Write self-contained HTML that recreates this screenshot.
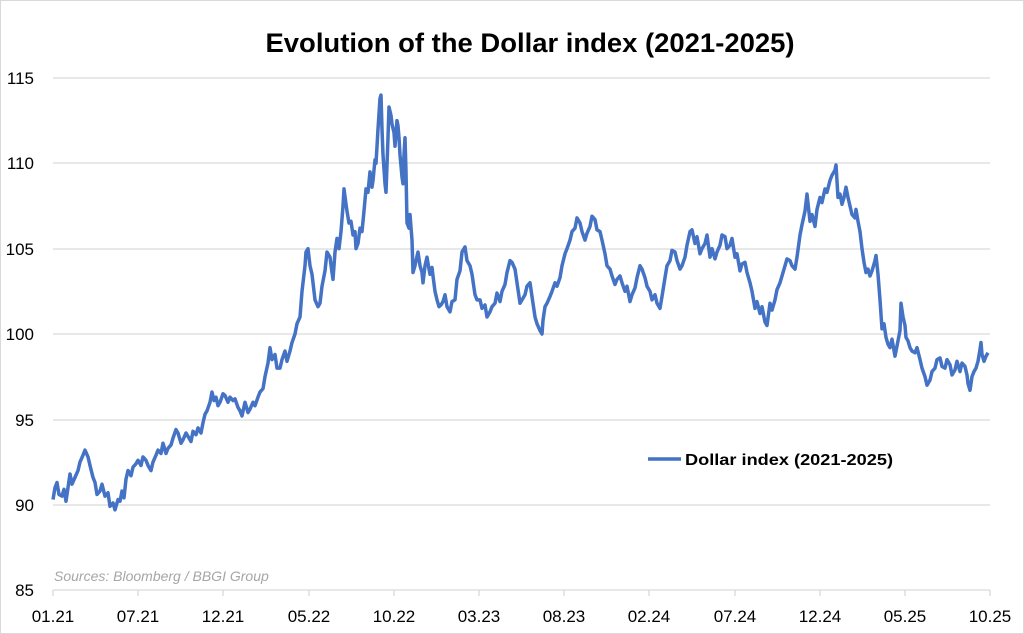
<!DOCTYPE html>
<html><head><meta charset="utf-8"><style>
html,body{margin:0;padding:0;background:#fff}
svg{display:block;font-family:"Liberation Sans",Arial,sans-serif}
</style></head><body>
<svg width="1024" height="634" viewBox="0 0 1024 634" xmlns="http://www.w3.org/2000/svg">
<rect x="0.5" y="0.5" width="1023" height="633" fill="#fff" stroke="#d9d9d9"/>
<text x="530" y="52" font-size="27" font-weight="bold" text-anchor="middle" textLength="529" lengthAdjust="spacingAndGlyphs" fill="#000">Evolution of the Dollar index (2021-2025)</text>
<g stroke="#d9d9d9" stroke-width="1.3">
<line x1="53" y1="78" x2="990" y2="78"/>
<line x1="53" y1="163" x2="990" y2="163"/>
<line x1="53" y1="249" x2="990" y2="249"/>
<line x1="53" y1="334" x2="990" y2="334"/>
<line x1="53" y1="420" x2="990" y2="420"/>
<line x1="53" y1="505" x2="990" y2="505"/>
<line x1="53" y1="590" x2="990" y2="590"/>
<line x1="53" y1="590" x2="53" y2="596"/><line x1="138" y1="590" x2="138" y2="596"/><line x1="223" y1="590" x2="223" y2="596"/><line x1="309" y1="590" x2="309" y2="596"/><line x1="394" y1="590" x2="394" y2="596"/><line x1="479" y1="590" x2="479" y2="596"/><line x1="564" y1="590" x2="564" y2="596"/><line x1="649" y1="590" x2="649" y2="596"/><line x1="735" y1="590" x2="735" y2="596"/><line x1="820" y1="590" x2="820" y2="596"/><line x1="905" y1="590" x2="905" y2="596"/><line x1="990" y1="590" x2="990" y2="596"/>
</g>
<g font-size="17" fill="#000" text-anchor="end">
<text x="34" y="84">115</text><text x="34" y="169">110</text><text x="34" y="255">105</text><text x="34" y="340">100</text><text x="34" y="426">95</text><text x="34" y="511">90</text><text x="34" y="596">85</text>
</g>
<g font-size="17" fill="#000" text-anchor="middle">
<text x="53" y="622">01.21</text><text x="138" y="622">07.21</text><text x="223" y="622">12.21</text><text x="309" y="622">05.22</text><text x="394" y="622">10.22</text><text x="479" y="622">03.23</text><text x="564" y="622">08.23</text><text x="649" y="622">02.24</text><text x="735" y="622">07.24</text><text x="820" y="622">12.24</text><text x="905" y="622">05.25</text><text x="990" y="622">10.25</text>
</g>
<text x="54" y="581" font-size="14" font-style="italic" fill="#a6a6a6">Sources: Bloomberg / BBGI Group</text>
<g transform="translate(0,2041) scale(1,-17.07)">
<polyline fill="none" stroke="#4472c4" stroke-width="3.5" stroke-linejoin="round" vector-effect="non-scaling-stroke" points="53,90.3 55,91.0 57,91.3 59,90.6 62,90.5 64,90.9 66,90.2 68,91.0 70,91.8 72,91.2 75,91.6 78,92.0 80,92.5 83,92.9 85,93.2 88,92.8 90,92.3 93,91.6 95,91.3 97,90.6 100,90.8 102,91.2 105,90.5 108,90.7 110,89.9 113,90.1 115,89.7 118,90.3 120,90.2 122,90.8 124,90.4 126,91.5 128,92.0 131,91.7 133,92.2 136,92.4 138,92.6 141,92.3 143,92.8 146,92.6 148,92.3 151,92.0 153,92.5 156,92.9 158,93.2 161,93.0 163,93.6 166,93.0 168,93.3 171,93.5 173,93.9 176,94.4 178,94.2 181,93.6 183,93.8 186,94.2 188,94.0 191,93.7 193,94.3 196,94.1 198,94.5 201,94.2 203,94.8 205,95.3 207,95.5 210,96.0 212,96.6 214,96.1 216,96.3 218,95.8 220,96.0 223,96.5 225,96.4 228,96.0 230,96.3 233,96.1 235,96.2 238,95.7 240,95.5 242,95.2 245,96.0 248,95.4 250,95.6 253,96.0 255,95.8 258,96.3 260,96.6 263,96.8 265,97.5 268,98.3 270,99.2 272,98.5 275,98.8 277,98.0 280,98.0 282,98.5 285,99.0 287,98.4 290,99.0 292,99.5 295,100.0 297,100.6 300,101.0 302,102.5 305,104.0 306,104.8 308,105.0 310,104.0 312,103.5 314,102.5 315,102.0 318,101.6 320,101.8 322,102.8 325,103.7 327,104.8 330,104.5 332,103.6 333,103.2 335,104.8 337,105.6 339,105.0 341,106.0 343,107.5 344,108.5 346,107.6 347,107.2 349,106.5 351,106.6 353,105.8 355,106.0 356,105.0 358,105.3 360,106.2 362,106.0 364,107.2 366,108.5 368,108.3 370,109.5 372,108.6 373,109.0 375,110.2 376,110.0 378,112.0 380,113.8 381,114.0 382,112.0 383,110.5 385,108.8 386,108.3 388,111.5 389,113.3 391,112.8 392,112.3 394,111.8 395,111.0 397,112.5 398,112.2 399,111.5 400,110.5 402,109.2 403,108.8 404,110.5 405,111.5 406,109.5 407,106.5 409,106.2 410,107.0 412,105.5 413,103.6 415,104.0 416,104.3 418,104.8 420,104.0 422,103.6 423,103.0 425,104.0 427,104.5 429,103.8 430,103.5 432,103.9 433,103.4 435,102.5 437,102.0 439,101.6 441,101.7 443,101.9 445,102.3 447,101.6 450,101.3 452,101.9 455,102.0 457,103.2 460,103.7 462,104.8 465,105.1 467,104.3 470,104.0 472,103.5 475,102.3 477,102.0 480,102.0 482,101.5 485,101.7 487,101.0 490,101.3 492,101.6 495,101.8 497,102.4 500,101.9 502,102.5 505,102.9 507,103.6 510,104.3 512,104.2 515,103.8 517,103.0 520,101.8 522,102.0 525,102.3 527,102.8 530,103.0 532,102.2 535,101.0 537,100.6 540,100.2 542,100.0 543,100.8 545,101.6 547,101.8 550,102.2 552,102.5 555,103.0 557,102.8 560,103.3 562,104.0 565,104.7 567,105.0 570,105.5 572,106.0 575,106.2 577,106.8 580,106.5 582,106.0 585,105.5 587,105.9 590,106.3 592,106.9 595,106.7 597,106.1 600,106.0 602,105.5 605,104.7 607,104.0 610,103.8 612,103.4 615,102.9 617,103.2 620,103.4 622,103.0 625,102.5 627,102.8 630,101.9 632,102.3 635,102.7 637,103.3 640,104.0 642,103.8 645,103.3 647,102.8 650,102.5 652,102.0 655,102.3 657,101.8 660,101.5 662,102.2 665,103.3 667,104.0 670,104.3 672,104.9 675,104.8 677,104.3 680,103.8 682,104.0 685,104.5 687,105.2 690,106.0 692,106.1 695,105.3 697,105.7 700,104.7 702,105.0 705,105.3 707,105.8 710,104.5 712,105.0 715,104.4 717,104.8 720,105.2 722,105.8 725,105.7 727,105.0 730,105.2 732,105.6 735,104.5 737,104.7 740,103.7 742,104.1 745,104.2 747,103.6 750,103.0 752,102.5 755,101.5 757,101.9 760,101.2 762,101.6 765,100.7 767,100.5 770,101.8 772,101.4 775,102.0 777,102.6 780,103.0 782,103.4 785,104.0 787,104.4 790,104.3 792,104.0 795,103.8 797,104.5 800,105.8 802,106.4 805,107.2 807,108.2 810,106.6 812,107.0 815,106.3 817,107.3 820,108.0 822,107.7 825,108.5 827,108.3 830,109.0 832,109.3 835,109.6 836,109.9 838,108.0 840,108.2 842,107.6 844,108.0 846,108.6 848,108.0 850,107.5 852,107.0 855,106.8 856,107.3 858,106.6 860,106.0 862,105.0 864,104.2 866,103.6 868,103.8 870,103.4 872,103.7 875,104.3 876,104.6 878,103.5 880,102.0 882,100.3 884,100.6 886,99.8 888,99.4 890,99.2 892,99.7 895,98.7 897,99.3 900,100.2 901,101.8 903,101.0 905,100.5 906,99.8 908,99.6 910,99.2 912,99.0 915,98.9 917,99.2 920,98.5 922,98.0 925,97.5 927,97.0 930,97.3 932,97.8 935,98.0 937,98.5 940,98.6 942,98.1 945,98.0 947,98.5 950,98.2 952,97.6 955,97.9 957,98.4 960,97.8 962,98.3 965,98.1 967,97.6 968,97.1 970,96.7 972,97.5 974,97.8 976,98.0 978,98.4 980,99.1 981,99.5 982,98.8 984,98.4 986,98.7 988,98.9"/>
</g>
<line x1="648" y1="459" x2="681" y2="459" stroke="#4472c4" stroke-width="3.5"/>
<text x="685" y="465" font-size="16" font-weight="bold" fill="#000" textLength="208" lengthAdjust="spacingAndGlyphs">Dollar index (2021-2025)</text>
</svg>
</body></html>
